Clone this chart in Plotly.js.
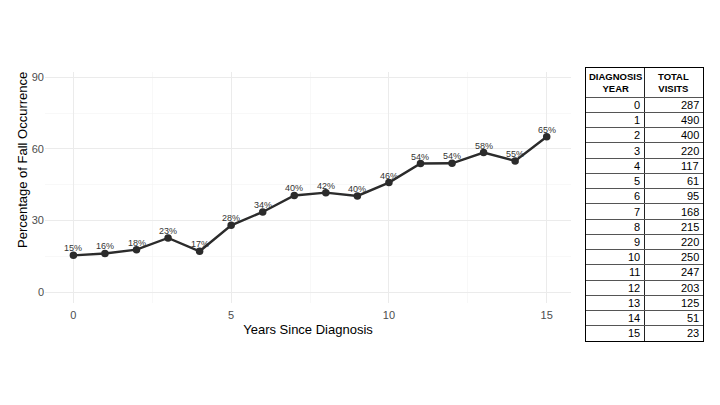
<!DOCTYPE html>
<html>
<head>
<meta charset="utf-8">
<script src="https://cdn.plot.ly/plotly-3.0.1.min.js"></script>
<style>html,body{margin:0;padding:0;background:#fff;}#chart{width:720px;height:405px;}</style>
</head>
<body>
<div id="chart"></div>
<script>
const years = [0,1,2,3,4,5,6,7,8,9,10,11,12,13,14,15];
const fallPct = [15.4,16.2,17.8,22.7,17.1,28.0,33.6,40.5,41.7,40.3,45.9,53.9,54.0,58.5,55.0,65.1];
const pctLabels = ["15%","16%","18%","23%","17%","28%","34%","40%","42%","40%","46%","54%","54%","58%","55%","65%"];
const totalVisits = [287,490,400,220,117,61,95,168,215,220,250,247,203,125,51,23];
const tableHeaders = ["<b>DIAGNOSIS</b><br><b>YEAR</b>","<b>TOTAL</b><br><b>VISITS</b>"];
const xTicks = [0,5,10,15];
const yTicks = [0,30,60,90];

const W = 720, H = 405;
const font = "Liberation Sans, Arial, Helvetica, sans-serif";

// table geometry (pixels)
const tTop = 68.3, tHeadBottom = 97.3, tBottom = 341, tLeft = 586, tMid = 644.3, tRight = 702.7;
const rowPx = (tBottom - tHeadBottom) / years.length;
const headRows = (tHeadBottom - tTop) / rowPx;

const lineTrace = {
  type: 'scatter',
  mode: 'lines+markers',
  x: years,
  y: fallPct,
  line: {color: '#2b2b2b', width: 2.4},
  marker: {color: '#2b2b2b', size: 7.5},
  cliponaxis: false,
  hoverinfo: 'skip',
  showlegend: false,
  xaxis: 'x', yaxis: 'y'
};

const annotations = [];
years.forEach((yr, i) => {
  annotations.push({
    xref: 'x', yref: 'y', x: yr, y: fallPct[i], text: pctLabels[i],
    showarrow: false, xanchor: 'center', yanchor: 'middle', yshift: 7,
    font: {family: font, size: 9, color: '#333333'}
  });
  // table cells
  annotations.push({
    xref: 'x2', yref: 'y2', x: 1, y: i + 0.5, text: String(yr),
    showarrow: false, xanchor: 'right', yanchor: 'middle', xshift: -2,
    font: {family: font, size: 11, color: '#000'}
  });
  annotations.push({
    xref: 'x2', yref: 'y2', x: 2, y: i + 0.5, text: String(totalVisits[i]),
    showarrow: false, xanchor: 'right', yanchor: 'middle', xshift: -2,
    font: {family: font, size: 11, color: '#000'}
  });
});
tableHeaders.forEach((h, j) => {
  annotations.push({
    xref: 'x2', yref: 'y2', x: j + 0.5, y: -headRows / 2, text: h,
    showarrow: false, xanchor: 'center', yanchor: 'middle',
    font: {family: font, size: 9.5, color: '#000'}
  });
});
annotations.push({
  xref: 'paper', yref: 'paper', x: 22 / W, y: (H - 160) / H,
  text: 'Percentage of Fall Occurrence', textangle: -90, showarrow: false,
  xanchor: 'center', yanchor: 'middle',
  font: {family: font, size: 13, color: '#000'}
});

// table grid positions
const rowLines = years.map((_, i) => i).slice(1);

const layout = {
  width: W, height: H,
  margin: {l: 0, r: 0, t: 0, b: 0},
  paper_bgcolor: '#fff',
  plot_bgcolor: '#fff',
  font: {family: font},
  showlegend: false,
  annotations: annotations,
  xaxis: {
    domain: [45/W, 571/W],
    range: [-0.9, 15.77],
    tickvals: xTicks,
    ticktext: xTicks.map(String),
    showgrid: true, gridcolor: '#ebebeb', gridwidth: 1,
    minor: {dtick: 2.5, tick0: 0, showgrid: true, gridcolor: '#f3f3f3', gridwidth: 0.6},
    zeroline: false, showline: false, ticks: '',
    ticklabelstandoff: 4,
    tickfont: {family: font, size: 11, color: '#4d4d4d'},
    title: {text: 'Years Since Diagnosis', font: {family: font, size: 13, color: '#000'}, standoff: 4},
    automargin: false, fixedrange: true
  },
  yaxis: {
    domain: [(H-303.3)/H, (H-71.7)/H],
    range: [-4.7, 92.4],
    tickvals: yTicks,
    ticktext: yTicks.map(String),
    showgrid: true, gridcolor: '#ebebeb', gridwidth: 1,
    minor: {dtick: 15, tick0: 0, showgrid: true, gridcolor: '#f3f3f3', gridwidth: 0.6},
    zeroline: false, showline: false, ticks: '',
    tickfont: {family: font, size: 11, color: '#4d4d4d'},
    automargin: false, fixedrange: true
  },
  xaxis2: {
    domain: [tLeft/W, tRight/W],
    range: [0, 2],
    tickvals: [1],
    showticklabels: false, ticks: '',
    showgrid: true, gridcolor: '#222', gridwidth: 1,
    zeroline: false,
    showline: true, mirror: true, linecolor: '#000', linewidth: 1,
    anchor: 'y2', automargin: false, fixedrange: true
  },
  yaxis2: {
    domain: [(H-tBottom)/H, (H-tTop)/H],
    range: [years.length, -headRows],
    tickvals: [0].concat(rowLines),
    showticklabels: false, ticks: '',
    showgrid: true, gridcolor: '#555', gridwidth: 1,
    zeroline: false,
    showline: true, mirror: true, linecolor: '#000', linewidth: 1,
    anchor: 'x2', automargin: false, fixedrange: true
  }
};

const tableAnchor = {
  type: 'scatter', mode: 'markers', x: [1], y: [0], xaxis: 'x2', yaxis: 'y2',
  marker: {opacity: 0}, hoverinfo: 'skip', showlegend: false
};

Plotly.newPlot('chart', [lineTrace, tableAnchor], layout, {displayModeBar: false, staticPlot: true});
</script>
</body>
</html>
